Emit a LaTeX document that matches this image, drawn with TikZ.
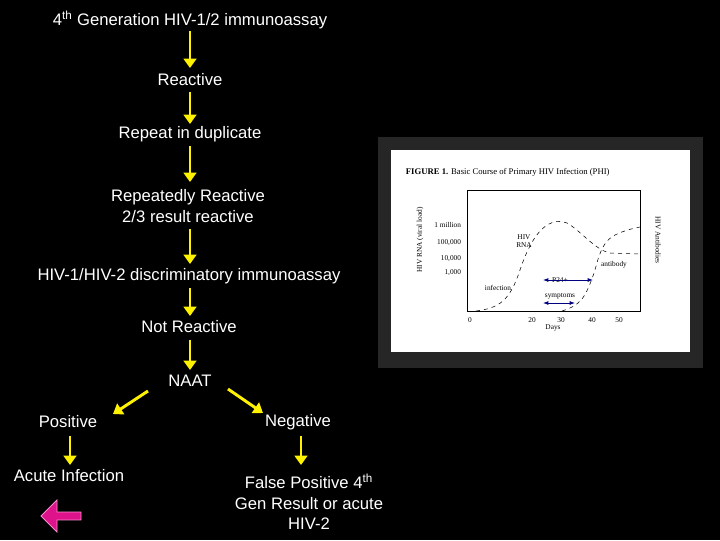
\documentclass[tikz,border=0pt]{standalone}
\usepackage{fontspec}
\setmainfont{Liberation Sans}
\newfontfamily\figfont{Liberation Serif}
\usetikzlibrary{arrows.meta,shapes.arrows}
\begin{document}
\begin{tikzpicture}[x=0.75pt,y=-0.75pt,
  lbl/.style={text=white,font=\fontsize{12.5}{15.5}\selectfont,inner sep=1pt,align=center},
  yarr/.style={draw=yellow,line width=2.2pt,-{Triangle[length=7pt,width=9.5pt]}},
  ft/.style={font=\figfont\fontsize{5.5}{6}\selectfont,inner sep=0.5pt,text=black}]
\fill[black] (0,0) rectangle (720,540);
\useasboundingbox (0,0) rectangle (720,540);
\node[lbl] (t) at (190,20) {4\textsuperscript{th} Generation HIV-1/2 immunoassay};
\node[lbl] (r) at (190,80) {Reactive};
\node[lbl] (rd) at (190,134) {Repeat in duplicate};
\node[lbl] (rr) at (188,206) {Repeatedly Reactive\\2/3 result reactive};
\node[lbl] (d) at (189,276) {HIV-1/HIV-2 discriminatory immunoassay};
\node[lbl] (nr) at (189,327) {Not Reactive};
\node[lbl] (n) at (190,381) {NAAT};
\node[lbl] (p) at (68,422) {Positive};
\node[lbl] (ng) at (298,422) {Negative};
\node[lbl] (ai) at (69,476) {Acute Infection};
\node[lbl] (fp) at (309,502) {False Positive 4\textsuperscript{th}\\Gen Result or acute\\HIV-2};
\coordinate (a1) at (190,31); \coordinate (b1) at (190,68);
\coordinate (a2) at (190,92); \coordinate (b2) at (190,124);
\coordinate (a3) at (190,146); \coordinate (b3) at (190,182);
\coordinate (a4) at (190,229); \coordinate (b4) at (190,264);
\coordinate (a5) at (190,288); \coordinate (b5) at (190,316);
\coordinate (a6) at (190,340); \coordinate (b6) at (190,370);
\coordinate (a7) at (148,391); \coordinate (b7) at (113,414);
\coordinate (a8) at (228,389); \coordinate (b8) at (263,413);
\coordinate (a9) at (70,436); \coordinate (b9) at (70,465);
\coordinate (a10) at (301,436); \coordinate (b10) at (301,465);
\foreach \i in {1,...,10} {\draw[yarr] (a\i) -- (b\i);}
\node[single arrow,shape border rotate=180,fill=magenta!85!violet,draw=magenta!45,line width=0.6pt,
  minimum width=24pt,single arrow head extend=4pt,minimum height=30pt,inner sep=1pt] (back) at (63,516) {};
% figure
\fill[black!85] (378,137) rectangle (703,368);
\fill[white] (391,150) rectangle (690,352);
\node[ft,anchor=west,font=\figfont\fontsize{6.5}{7}\selectfont] (ftitle) at (405,172) {\textbf{FIGURE 1.} Basic Course of Primary HIV Infection (PHI)};
\draw[black,line width=0.5pt] (467,190) rectangle (640,311);
\node[ft,rotate=90] (yl) at (420,240) {HIV RNA (viral load)};
\node[ft,rotate=-90] (yr) at (658,240) {HIV Antibodies};
\node[ft,anchor=east] (m1) at (462,225) {1 million};
\node[ft,anchor=east] (m2) at (462,243) {100,000};
\node[ft,anchor=east] (m3) at (462,259) {10,000};
\node[ft,anchor=east] (m4) at (462,273) {1,000};
\node[ft] (inf) at (498,288) {infection};
\node[ft,align=center] (rna) at (524,241) {HIV\\RNA};
\node[ft] (ab) at (614,265) {antibody};
\node[ft] (p24) at (560,280) {P24+};
\node[ft] (sy) at (560,296) {symptoms};
\node[ft] (x0) at (470,320) {0};
\node[ft] (x1) at (532,320) {20};
\node[ft] (x2) at (561,320) {30};
\node[ft] (x3) at (592,320) {40};
\node[ft] (x4) at (619,320) {50};
\node[ft] (days) at (553,328) {Days};
\draw[dashed,line width=0.4pt] (476,311) .. controls (500,308) and (510,300) .. (520,270) .. controls (530,240) and (545,215) .. (567,223) .. controls (580,230) and (595,250) .. (610,253) -- (640,254);
\draw[dashed,line width=0.4pt] (562,311) .. controls (580,305) and (585,300) .. (595,270) .. controls (600,250) and (605,240) .. (615,235) .. controls (625,230) and (635,228) .. (640,227);
\draw[blue!50!black,line width=0.7pt,{Latex[length=4pt]}-{Latex[length=4pt]}] (543,280) -- (593,280);
\draw[blue!50!black,line width=0.7pt,{Latex[length=4pt]}-{Latex[length=4pt]}] (543,303) -- (575,303);
\end{tikzpicture}
\end{document}
